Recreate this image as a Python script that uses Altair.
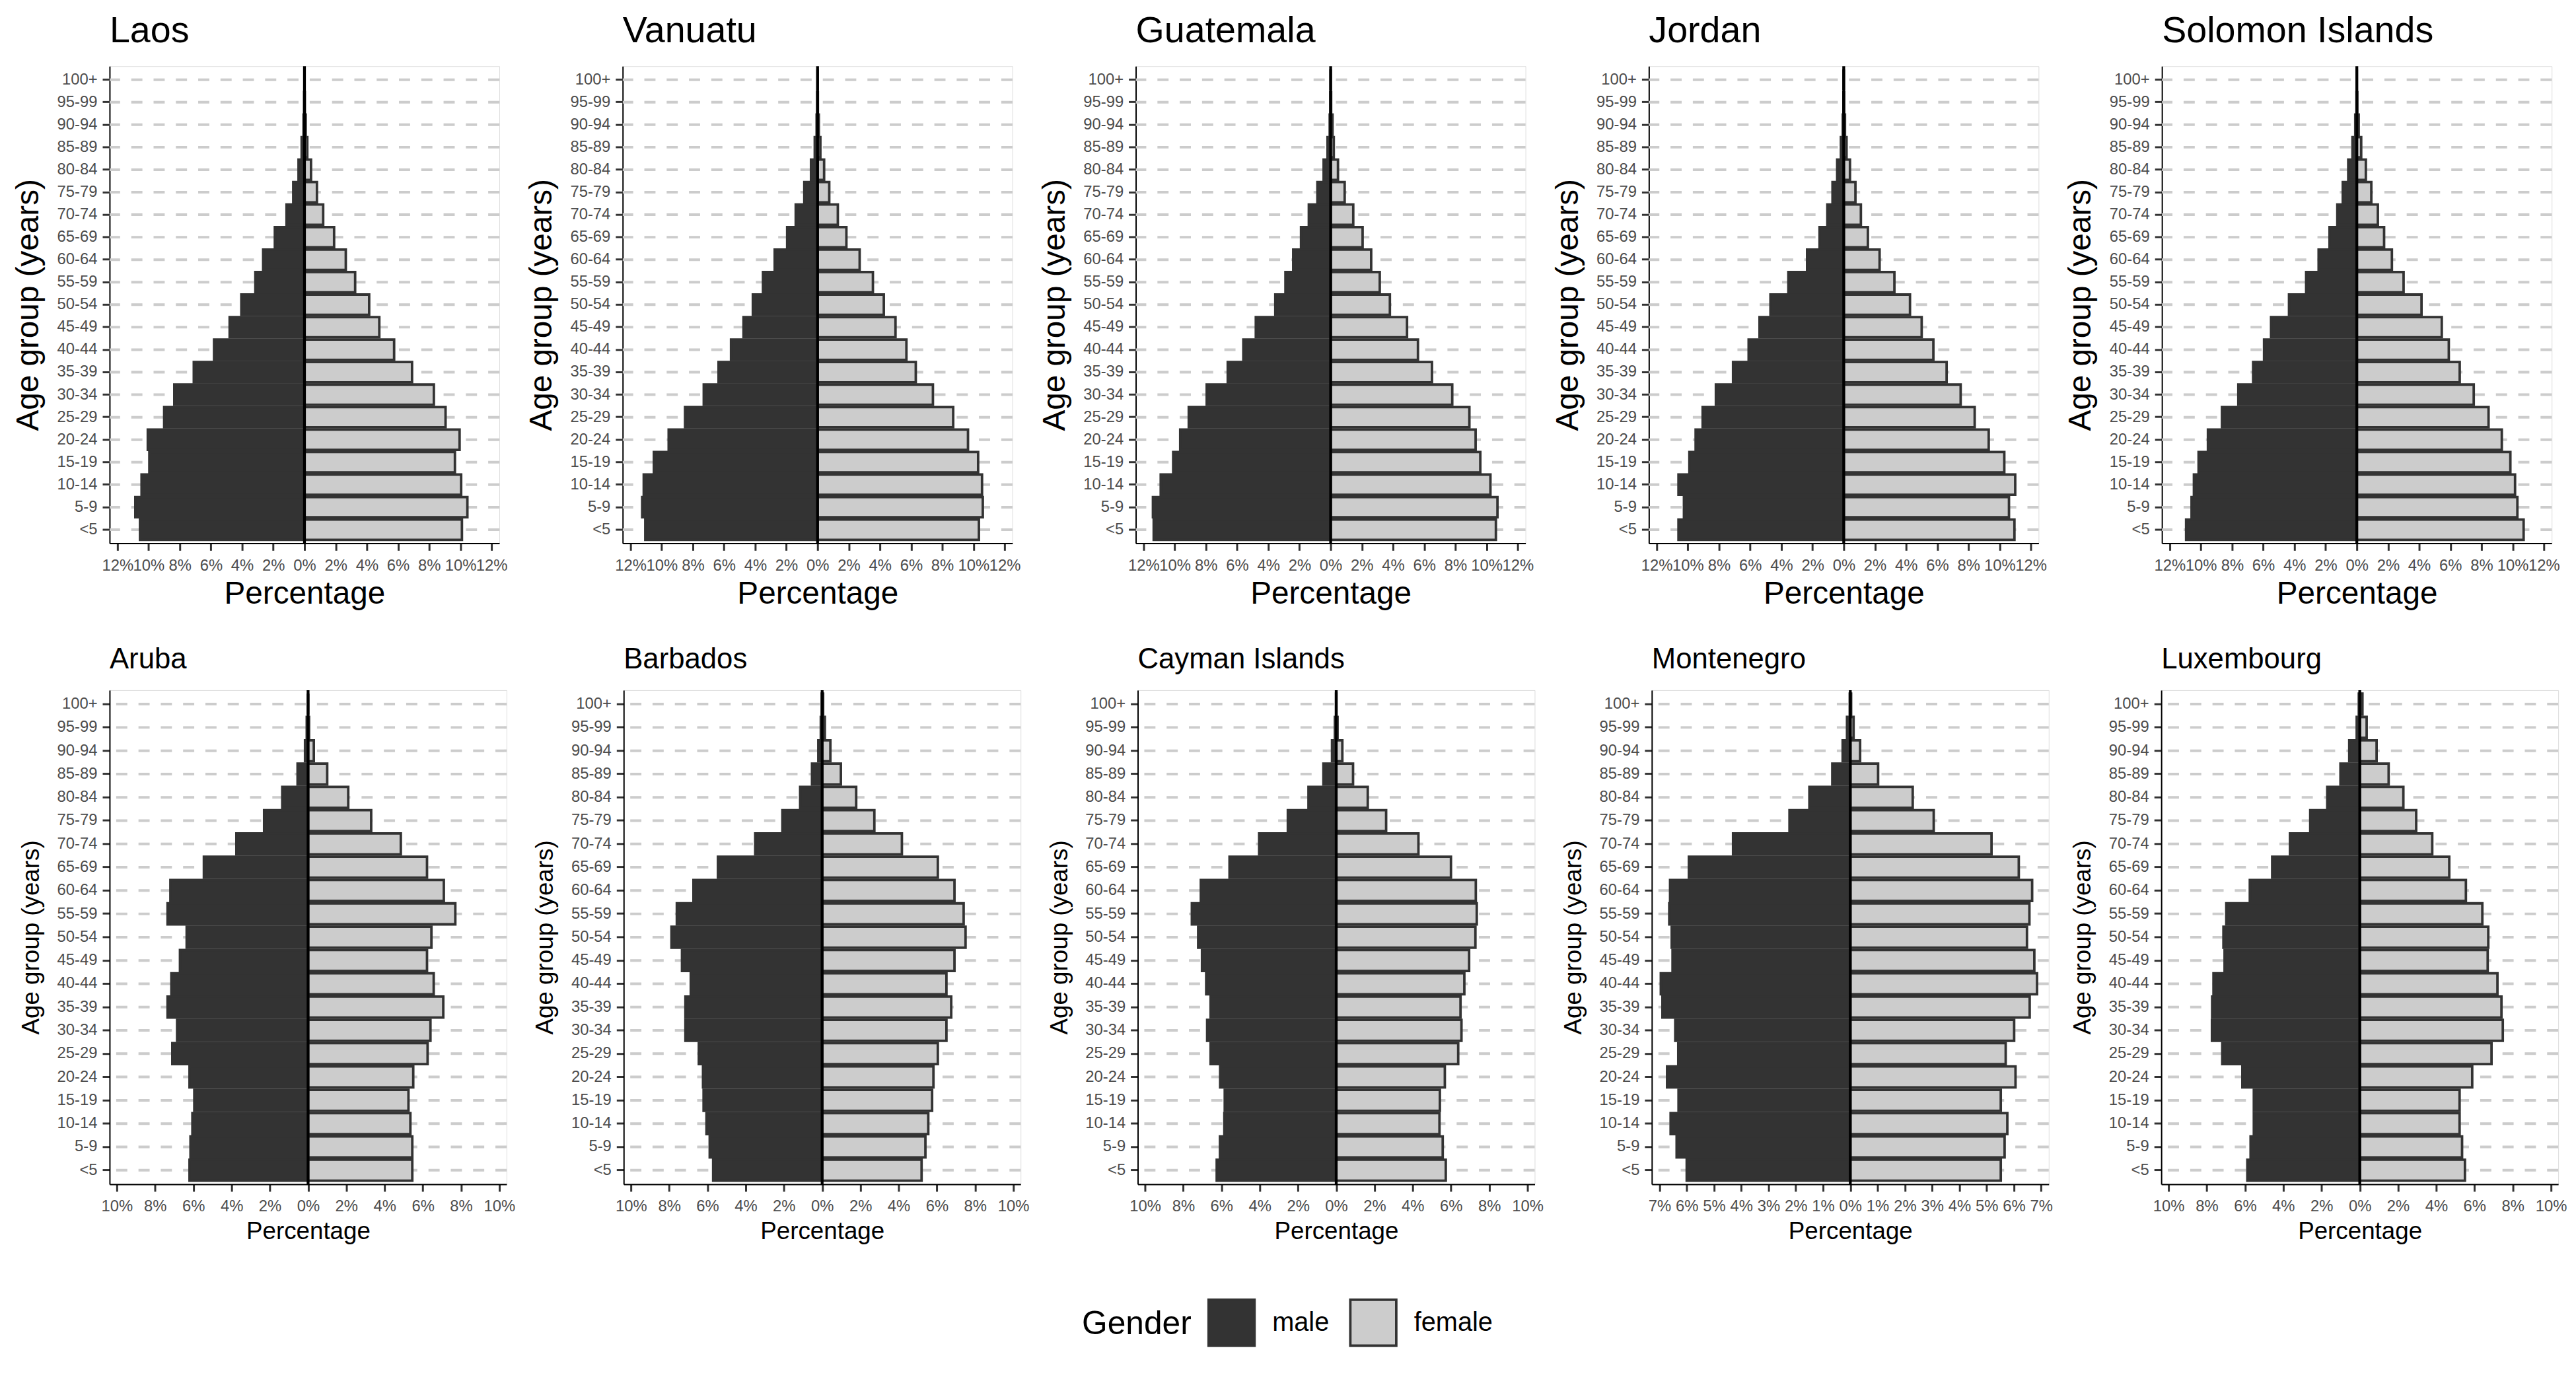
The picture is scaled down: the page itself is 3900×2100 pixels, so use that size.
import altair as alt
import pandas as pd

FONT = "Liberation Sans"

ages = ['<5', '5-9', '10-14', '15-19', '20-24', '25-29', '30-34', '35-39', '40-44', '45-49',
        '50-54', '55-59', '60-64', '65-69', '70-74', '75-79', '80-84', '85-89', '90-94', '95-99', '100+']
age_order = ages[::-1]
genders = ['male', 'female']

countries_top = ['Laos', 'Vanuatu', 'Guatemala', 'Jordan', 'Solomon Islands']
countries_bottom = ['Aruba', 'Barbados', 'Cayman Islands', 'Montenegro', 'Luxembourg']

# percentages, ordered <5 ... 100+
laos_male = [10.55, 10.85, 10.45, 9.95, 10.05, 9.0, 8.35, 7.1, 5.8, 4.8, 4.05, 3.15, 2.65, 1.9, 1.15, 0.72, 0.38, 0.18, 0.06, 0.02, 0.0]
laos_female = [10.1, 10.45, 10.05, 9.65, 9.95, 9.05, 8.3, 6.9, 5.75, 4.8, 4.15, 3.25, 2.65, 1.9, 1.2, 0.8, 0.42, 0.18, 0.08, 0.02, 0.0]
vanuatu_male = [11.05, 11.25, 11.15, 10.5, 9.55, 8.5, 7.3, 6.35, 5.55, 4.75, 4.15, 3.5, 2.75, 1.95, 1.4, 0.85, 0.42, 0.18, 0.06, 0.02, 0.0]
vanuatu_female = [10.35, 10.6, 10.55, 10.3, 9.65, 8.7, 7.4, 6.3, 5.7, 5.0, 4.25, 3.55, 2.7, 1.85, 1.3, 0.75, 0.42, 0.18, 0.08, 0.02, 0.0]
guatemala_male = [11.35, 11.4, 10.9, 10.1, 9.65, 9.1, 7.95, 6.6, 5.6, 4.8, 3.55, 2.9, 2.4, 1.9, 1.4, 0.85, 0.45, 0.2, 0.06, 0.02, 0.0]
guatemala_female = [10.6, 10.7, 10.25, 9.6, 9.3, 8.9, 7.8, 6.5, 5.6, 4.9, 3.8, 3.15, 2.6, 2.05, 1.45, 0.9, 0.47, 0.2, 0.12, 0.03, 0.0]
jordan_male = [10.6, 10.25, 10.6, 9.9, 9.5, 9.05, 8.2, 7.1, 6.1, 5.4, 4.7, 3.55, 2.35, 1.55, 1.05, 0.72, 0.42, 0.18, 0.06, 0.02, 0.0]
jordan_female = [10.95, 10.6, 11.0, 10.3, 9.3, 8.4, 7.5, 6.6, 5.75, 5.0, 4.25, 3.25, 2.3, 1.55, 1.1, 0.75, 0.4, 0.18, 0.08, 0.02, 0.0]
solomon_male = [10.95, 10.6, 10.45, 10.15, 9.55, 8.65, 7.6, 6.65, 5.95, 5.5, 4.35, 3.25, 2.45, 1.75, 1.25, 0.9, 0.55, 0.28, 0.1, 0.02, 0.0]
solomon_female = [10.7, 10.3, 10.15, 9.85, 9.3, 8.45, 7.5, 6.6, 5.9, 5.45, 4.15, 3.0, 2.25, 1.75, 1.35, 0.93, 0.58, 0.28, 0.12, 0.03, 0.0]

aruba_male = [6.2, 6.15, 6.05, 5.95, 6.2, 7.1, 6.85, 7.35, 7.15, 6.7, 6.35, 7.35, 7.2, 5.45, 3.75, 2.3, 1.35, 0.55, 0.16, 0.07, 0.0]
aruba_female = [5.45, 5.45, 5.35, 5.25, 5.5, 6.25, 6.4, 7.07, 6.57, 6.22, 6.45, 7.7, 7.1, 6.22, 4.85, 3.3, 2.1, 1.0, 0.3, 0.05, 0.0]
barbados_male = [5.7, 5.88, 6.05, 6.2, 6.23, 6.45, 7.15, 7.15, 6.87, 7.33, 7.88, 7.6, 6.73, 5.45, 3.5, 2.08, 1.15, 0.53, 0.2, 0.07, 0.02]
barbados_female = [5.2, 5.4, 5.55, 5.75, 5.82, 6.05, 6.5, 6.75, 6.5, 6.92, 7.5, 7.4, 6.92, 6.05, 4.17, 2.73, 1.78, 0.98, 0.43, 0.14, 0.05]
cayman_male = [6.25, 6.08, 5.85, 5.83, 6.07, 6.57, 6.75, 6.57, 6.8, 7.02, 7.22, 7.55, 7.08, 5.58, 4.03, 2.53, 1.45, 0.67, 0.22, 0.07, 0.01]
cayman_female = [5.73, 5.57, 5.4, 5.42, 5.68, 6.38, 6.55, 6.5, 6.7, 6.95, 7.28, 7.35, 7.3, 6.0, 4.3, 2.61, 1.65, 0.88, 0.32, 0.07, 0.01]
montenegro_male = [6.0, 6.37, 6.59, 6.3, 6.72, 6.31, 6.42, 6.89, 6.95, 6.52, 6.55, 6.64, 6.61, 5.92, 4.3, 2.23, 1.5, 0.66, 0.28, 0.12, 0.02]
montenegro_female = [5.52, 5.66, 5.76, 5.52, 6.06, 5.7, 6.01, 6.58, 6.85, 6.75, 6.48, 6.57, 6.67, 6.18, 5.18, 3.06, 2.29, 1.02, 0.36, 0.12, 0.03]
luxembourg_male = [5.88, 5.71, 5.54, 5.54, 6.14, 7.19, 7.73, 7.72, 7.65, 7.07, 7.13, 6.98, 5.75, 4.58, 3.65, 2.59, 1.7, 1.01, 0.55, 0.16, 0.05]
luxembourg_female = [5.5, 5.35, 5.22, 5.22, 5.88, 6.89, 7.48, 7.41, 7.2, 6.69, 6.72, 6.41, 5.55, 4.68, 3.79, 2.95, 2.28, 1.51, 0.88, 0.36, 0.14]

top_data = [laos_male, laos_female, vanuatu_male, vanuatu_female, guatemala_male, guatemala_female,
            jordan_male, jordan_female, solomon_male, solomon_female]
bottom_data = [aruba_male, aruba_female, barbados_male, barbados_female, cayman_male, cayman_female,
               montenegro_male, montenegro_female, luxembourg_male, luxembourg_female]

top_ticks = list(range(-12, 13, 2))
bottom_ticks = list(range(-10, 11, 2))
montenegro_ticks = list(range(-7, 8, 1))

legend = alt.Legend(
    orient='none', legendX=1482, legendY=1878, direction='horizontal',
    title='Gender', titleOrient='left', titleFont=FONT, titleFontSize=50, titleFontWeight='normal',
    titleColor='black', titlePadding=24, titleAnchor='middle', titleBaseline='middle', titleLimit=400,
    labelFont=FONT, labelFontSize=40, labelColor='black', labelOffset=25, labelLimit=300,
    columnPadding=24, symbolType='square', symbolSize=4900, symbolStrokeColor='#333333',
    symbolStrokeWidth=3.8, symbolOpacity=1, padding=0,
)


def panel(country, male, female, width, height, xmax, ticks, title_size, axis_title_size,
          y_extent, y_title_pad, title_offset):
    df = pd.DataFrame({
        'age': ages + ages,
        'gender': ['male'] * len(ages) + ['female'] * len(ages),
        'pct': [-m for m in male] + list(female),
    })
    x_axis = alt.Axis(
        values=ticks, labelExpr="abs(datum.value) + '%'", title='Percentage',
        domainColor='black', domainWidth=2, tickColor='#333333', tickWidth=3, tickSize=11,
        labelPadding=11, labelFont=FONT, labelFontSize=24, labelColor='#4d4d4d',
        labelOverlap=False, labelFlush=False, grid=False,
        titleFont=FONT, titleFontSize=axis_title_size, titleFontWeight='normal', titleColor='black',
        titlePadding=8,
    )
    y_axis = alt.Axis(
        title='Age group (years)', domainColor='black', domainWidth=2, tickColor='#333333',
        tickWidth=3, tickSize=11, labelPadding=8, labelFont=FONT, labelFontSize=24,
        labelColor='#4d4d4d', minExtent=y_extent, maxExtent=y_extent,
        titleFont=FONT, titleFontSize=axis_title_size, titleFontWeight='normal', titleColor='black',
        titlePadding=y_title_pad, grid=False,
    )
    xscale = alt.Scale(domain=[-xmax, xmax], nice=False)
    yscale = alt.Scale(paddingInner=0.1, paddingOuter=0.15)
    grid = alt.Chart(pd.DataFrame({'age': ages})).mark_rule(
        color='#cccccc', strokeWidth=4, strokeDash=[17, 17]
    ).encode(y=alt.Y('age:N', sort=age_order, scale=yscale, axis=y_axis))
    bars = alt.Chart(df).mark_bar(stroke='#333333', strokeWidth=3.8).encode(
        x=alt.X('pct:Q', scale=xscale, axis=x_axis),
        y=alt.Y('age:N', sort=age_order, scale=yscale, axis=y_axis),
        fill=alt.Fill('gender:N', scale=alt.Scale(domain=genders, range=['#333333', '#cccccc']),
                      legend=legend, title='Gender'),
    )
    zero = alt.Chart(pd.DataFrame({'pct': [0]})).mark_rule(color='black', strokeWidth=4.3).encode(
        x=alt.X('pct:Q', scale=xscale, axis=x_axis)
    )
    return alt.layer(grid, bars, zero).properties(
        width=width, height=height,
        title=alt.TitleParams(text=country, anchor='start', frame='group', font=FONT,
                              fontSize=title_size, fontWeight='normal', color='black',
                              baseline='alphabetic', offset=title_offset),
    )


top_panels = []
for i, c in enumerate(countries_top):
    top_panels.append(panel(c, top_data[2 * i], top_data[2 * i + 1], 594, 727, 12.5, top_ticks,
                            56, 48, 86, 13, -22))
bottom_panels = []
for i, c in enumerate(countries_bottom):
    if c == 'Montenegro':
        xmax, ticks = 7.28, montenegro_ticks
    else:
        xmax, ticks = 10.38, bottom_ticks
    bottom_panels.append(panel(c, bottom_data[2 * i], bottom_data[2 * i + 1], 605, 753, xmax, ticks,
                               44, 37, 85, 15, -13))

top_row = alt.hconcat(*top_panels, spacing=27).resolve_scale(x='independent', y='independent')
bottom_row = alt.hconcat(*bottom_panels, spacing=25.5).resolve_scale(x='independent', y='independent')

chart = alt.vconcat(top_row, bottom_row, spacing=52).resolve_scale(fill='shared').properties(
    padding={'left': 11, 'top': 4, 'right': 5, 'bottom': 5}
).configure_view(stroke=None).configure_axis(grid=False).configure(background='white')

chart.save("out.html", embed_options={"renderer": "svg", "actions": False})
